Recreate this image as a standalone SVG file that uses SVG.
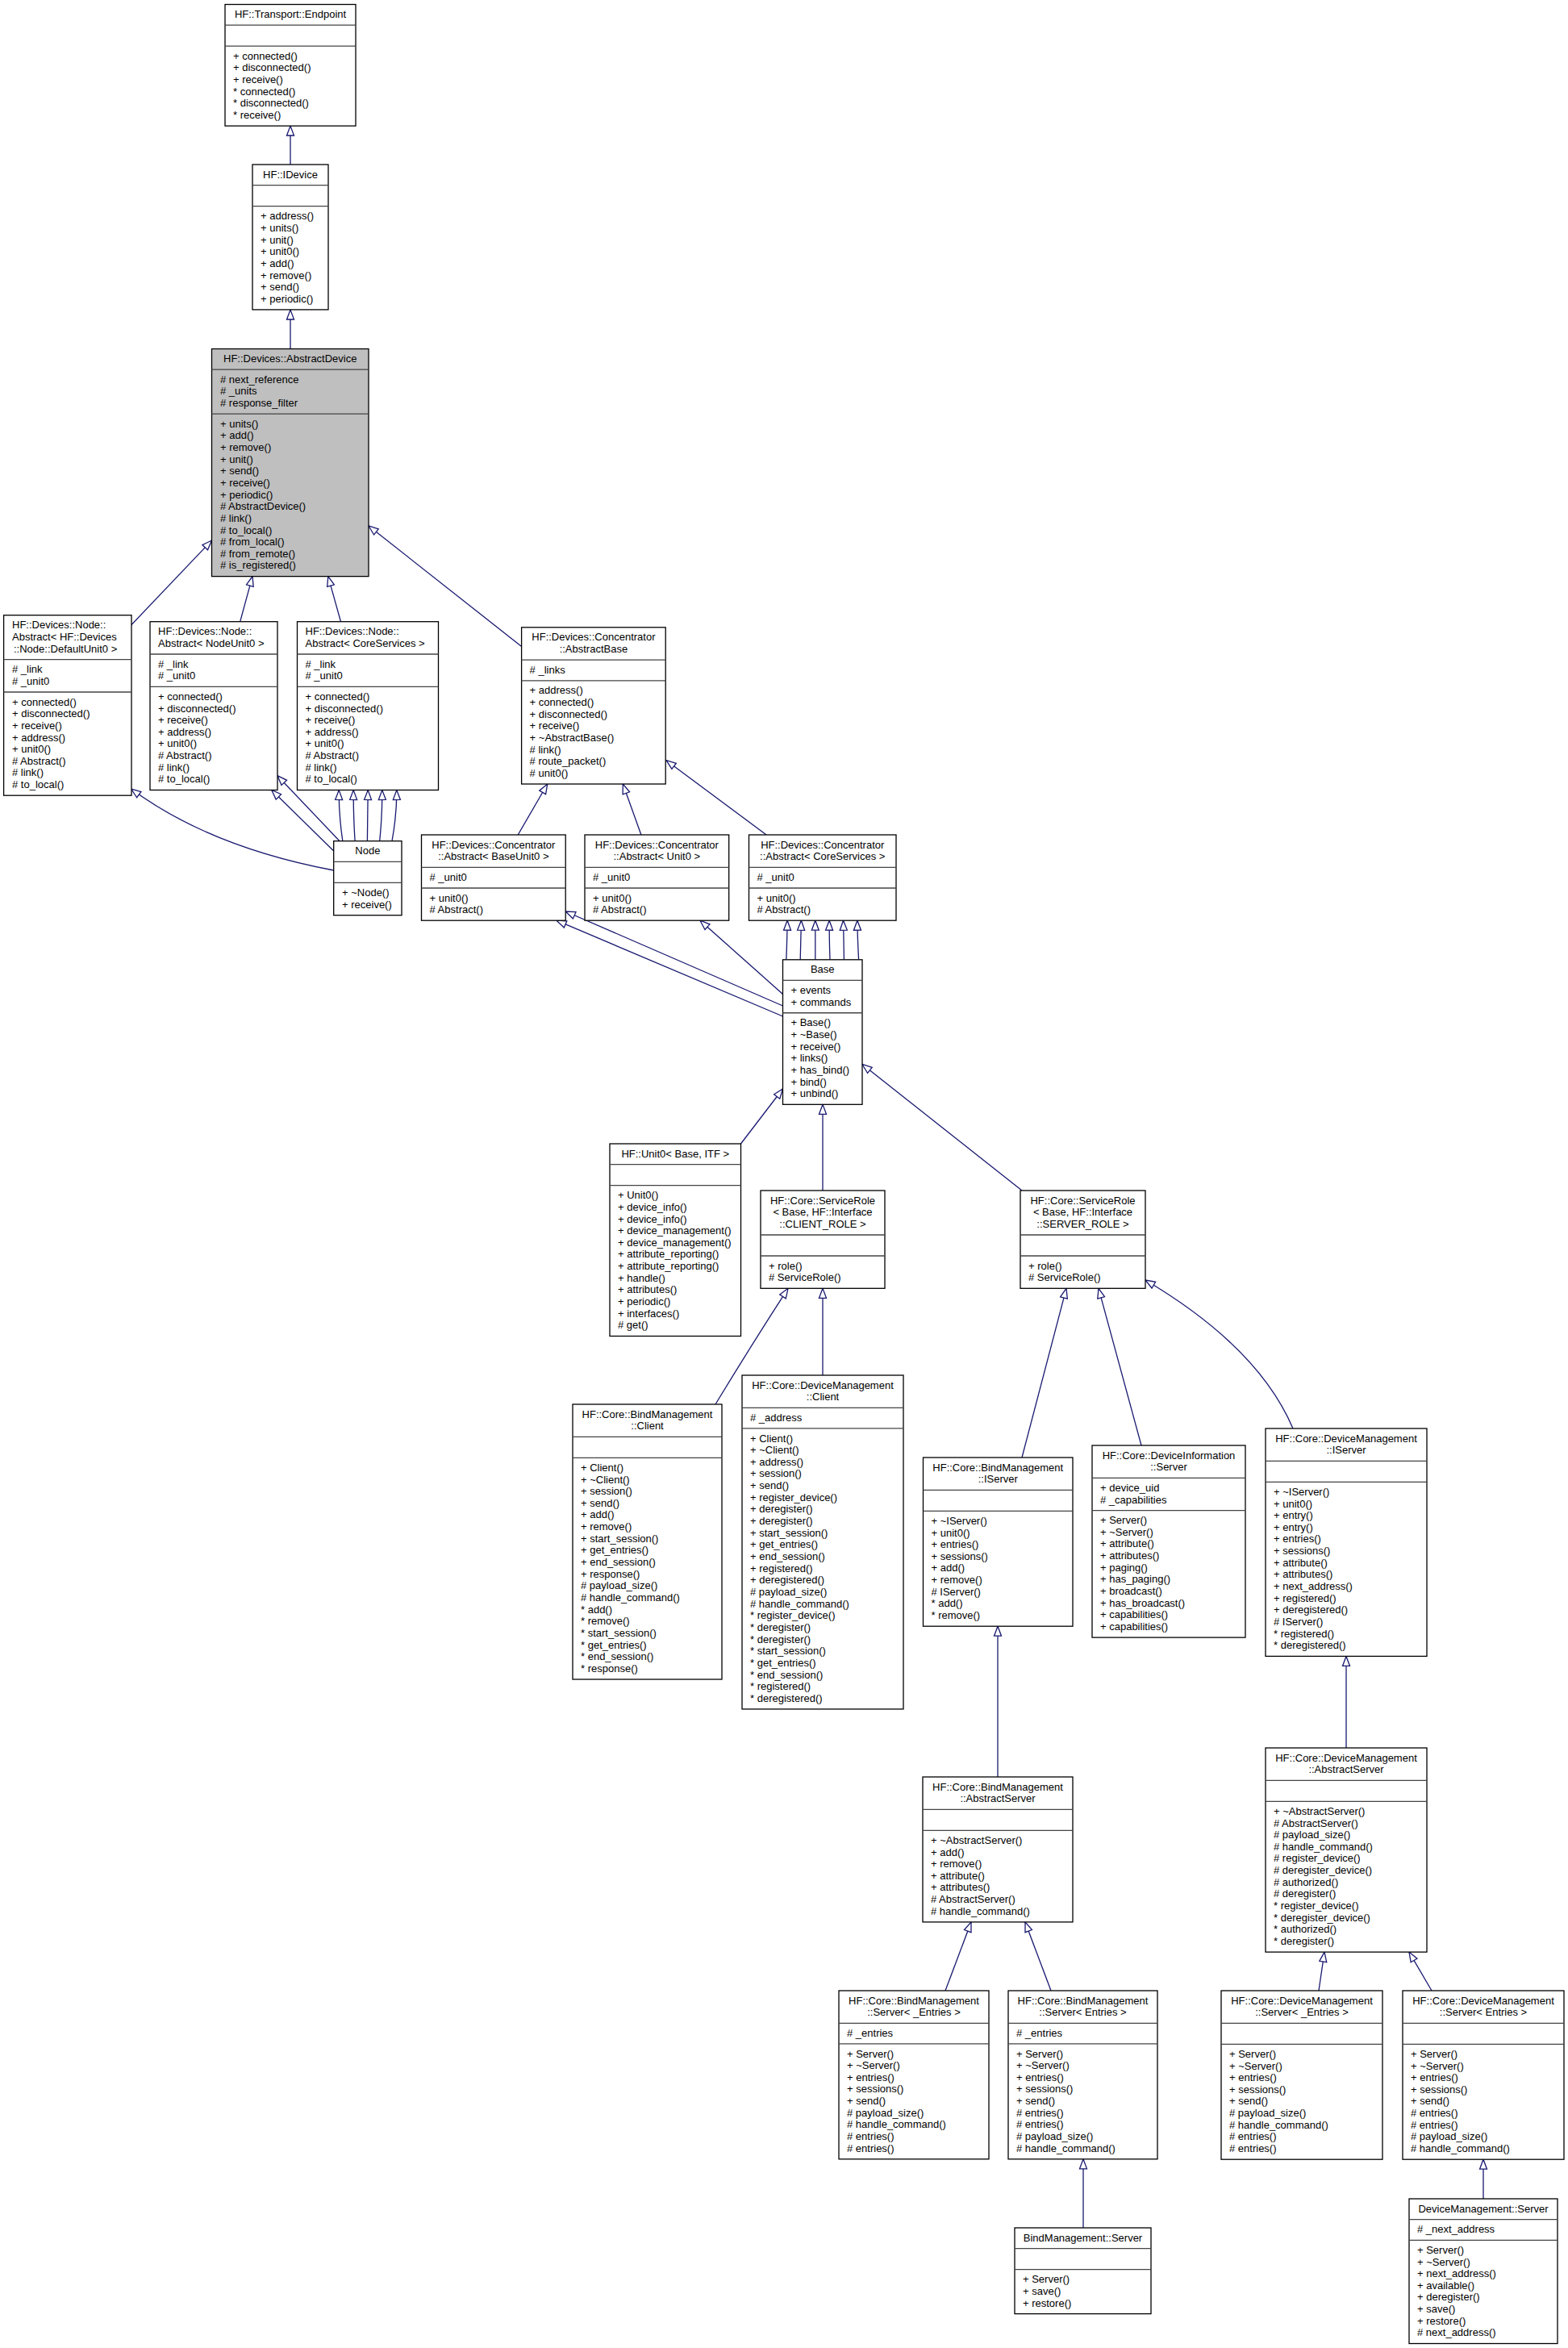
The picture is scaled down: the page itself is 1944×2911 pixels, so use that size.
<svg xmlns="http://www.w3.org/2000/svg" width="1944" height="2911" viewBox="0 0 1944 2911">
<style>
.b{fill:#fff;stroke:#000;stroke-width:1.3}
.g{fill:#bfbfbf;stroke:#000;stroke-width:1.3}
.s{fill:none;stroke:#444;stroke-width:1.3}
text{font-family:"Liberation Sans",Arial,Helvetica,sans-serif;font-size:13px;fill:#000}
.c{text-anchor:middle}
.e{fill:none;stroke:#191970;stroke-width:1.3;marker-end:url(#a)}
</style>
<defs>
<marker id="a" markerUnits="userSpaceOnUse" markerWidth="14" markerHeight="11" refX="12.5" refY="5" orient="auto" overflow="visible">
<path d="M0.5,0.5 L12.5,5 L0.5,9.5 Z" fill="#fff" stroke="#191970" stroke-width="1.3"/>
</marker>
</defs>
<rect width="1944" height="2911" fill="#fff"/>
<g id="connectors">
<path class="e" d="M360,204 V156"/>
<path class="e" d="M360,432.5 V384"/>
<path class="e" d="M162.6,775 L262.5,670"/>
<path class="e" d="M297.7,770.7 L313,714.6"/>
<path class="e" d="M422.5,770.7 L406.8,714.6"/>
<path class="e" d="M646.6,801.5 L457,652"/>
<path class="e" d="M413.7,1079 Q260,1050 162.6,978"/>
<path class="e" d="M413.7,1055 L336.8,979.5"/>
<path class="e" d="M421,1042.7 L344,961.7"/>
<path class="e" d="M424.8,1042.7 Q420,1010 420.2,979.5"/>
<path class="e" d="M440.1,1042.7 Q438,1010 438.2,979.5"/>
<path class="e" d="M455.4,1042.7 L456.2,979.5"/>
<path class="e" d="M470.7,1042.7 Q474,1010 473.8,979.5"/>
<path class="e" d="M486,1042.7 Q492,1010 491.8,979.5"/>
<path class="e" d="M642.2,1035 L678.7,972"/>
<path class="e" d="M794.9,1035 L772.3,972"/>
<path class="e" d="M950.1,1035 L826,942.7"/>
<path class="e" d="M970.5,1247 L701.2,1130"/>
<path class="e" d="M970.5,1260 L690,1141.2"/>
<path class="e" d="M970.5,1232.5 L868,1141.2"/>
<path class="e" d="M974.8,1189.8 Q976,1160 976.1,1141.2"/>
<path class="e" d="M992.2,1189.8 Q993,1160 993.4,1141.2"/>
<path class="e" d="M1010.8,1189.8 L1010.8,1141.2"/>
<path class="e" d="M1029,1189.8 Q1028,1160 1028.2,1141.2"/>
<path class="e" d="M1046.4,1189.8 Q1046,1160 1045.5,1141.2"/>
<path class="e" d="M1064.6,1189.8 Q1063,1160 1062.9,1141.2"/>
<path class="e" d="M918.5,1418 L970.5,1350"/>
<path class="e" d="M1020,1476 V1369.3"/>
<path class="e" d="M1267,1476 L1069,1319.5"/>
<path class="e" d="M887,1741 Q930,1670 977,1597.3"/>
<path class="e" d="M1020,1705 V1597.3"/>
<path class="e" d="M1267,1807 L1322,1597.3"/>
<path class="e" d="M1415,1792 L1362,1597.3"/>
<path class="e" d="M1603,1771 Q1560,1670 1420,1587"/>
<path class="e" d="M1237,2203 V2016.2"/>
<path class="e" d="M1669,2167 V2053.4"/>
<path class="e" d="M1172,2468 L1204,2382.9"/>
<path class="e" d="M1303,2468 L1271,2382.9"/>
<path class="e" d="M1343,2762 V2676.8"/>
<path class="e" d="M1635,2468 L1642,2420.1"/>
<path class="e" d="M1775,2468 L1747,2420.1"/>
<path class="e" d="M1839,2726 V2677.2"/>
</g>
<g id="endpoint">
<rect class="b" x="279" y="5.5" width="162" height="150.6"/>
<path class="s" d="M279,31.2 H441 M279,57.2 H441"/>
<text class="c" x="360" y="22">HF::Transport::Endpoint</text>
<text x="289"><tspan x="289" y="73.7">+ connected()</tspan><tspan x="289" y="88.4">+ disconnected()</tspan><tspan x="289" y="103">+ receive()</tspan><tspan x="289" y="117.7">* connected()</tspan><tspan x="289" y="132.3">* disconnected()</tspan><tspan x="289" y="147">* receive()</tspan></text>
</g>
<g id="idevice">
<rect class="b" x="313" y="204" width="94" height="179.9"/>
<path class="s" d="M313,229.7 H407 M313,255.7 H407"/>
<text class="c" x="360" y="220.5">HF::IDevice</text>
<text><tspan x="323" y="272.2">+ address()</tspan><tspan x="323" y="286.9">+ units()</tspan><tspan x="323" y="301.5">+ unit()</tspan><tspan x="323" y="316.2">+ unit0()</tspan><tspan x="323" y="330.8">+ add()</tspan><tspan x="323" y="345.5">+ remove()</tspan><tspan x="323" y="360.1">+ send()</tspan><tspan x="323" y="374.8">+ periodic()</tspan></text>
</g>
<g id="abstractdevice">
<rect class="g" x="262.5" y="432.5" width="194.5" height="282.1"/>
<path class="s" d="M262.5,458.2 H457 M262.5,513.1 H457"/>
<text class="c" x="359.75" y="449">HF::Devices::AbstractDevice</text>
<text><tspan x="273" y="474.7"># next_reference</tspan><tspan x="273" y="489.4"># _units</tspan><tspan x="273" y="504"># response_filter</tspan></text>
<text><tspan x="273" y="529.6">+ units()</tspan><tspan x="273" y="544.3">+ add()</tspan><tspan x="273" y="558.9">+ remove()</tspan><tspan x="273" y="573.6">+ unit()</tspan><tspan x="273" y="588.2">+ send()</tspan><tspan x="273" y="602.9">+ receive()</tspan><tspan x="273" y="617.5">+ periodic()</tspan><tspan x="273" y="632.2"># AbstractDevice()</tspan><tspan x="273" y="646.8"># link()</tspan><tspan x="273" y="661.5"># to_local()</tspan><tspan x="273" y="676.1"># from_local()</tspan><tspan x="273" y="690.8"># from_remote()</tspan><tspan x="273" y="705.4"># is_registered()</tspan></text>
</g>
<g id="node_default">
<rect class="b" x="4.6" y="762.7" width="158.4" height="223.5"/>
<path class="s" d="M4.6,817.7 H163 M4.6,858 H163"/>
<text><tspan x="15" y="779.2">HF::Devices::Node::</tspan><tspan x="15" y="793.9">Abstract&lt; HF::Devices</tspan><tspan x="17" y="808.5">::Node::DefaultUnit0 &gt;</tspan></text>
<text><tspan x="15" y="834.2"># _link</tspan><tspan x="15" y="848.9"># _unit0</tspan></text>
<text><tspan x="15" y="874.5">+ connected()</tspan><tspan x="15" y="889.2">+ disconnected()</tspan><tspan x="15" y="903.8">+ receive()</tspan><tspan x="15" y="918.5">+ address()</tspan><tspan x="15" y="933.1">+ unit0()</tspan><tspan x="15" y="947.8"># Abstract()</tspan><tspan x="15" y="962.4"># link()</tspan><tspan x="15" y="977.1"># to_local()</tspan></text>
</g>
<g id="node_nodeunit0">
<rect class="b" x="186" y="770.7" width="158" height="208.8"/>
<path class="s" d="M186,811 H344 M186,851.3 H344"/>
<text><tspan x="196" y="787.2">HF::Devices::Node::</tspan><tspan x="196" y="801.9">Abstract&lt; NodeUnit0 &gt;</tspan></text>
<text><tspan x="196" y="827.5"># _link</tspan><tspan x="196" y="842.2"># _unit0</tspan></text>
<text><tspan x="196" y="867.8">+ connected()</tspan><tspan x="196" y="882.5">+ disconnected()</tspan><tspan x="196" y="897.1">+ receive()</tspan><tspan x="196" y="911.8">+ address()</tspan><tspan x="196" y="926.4">+ unit0()</tspan><tspan x="196" y="941.1"># Abstract()</tspan><tspan x="196" y="955.7"># link()</tspan><tspan x="196" y="970.4"># to_local()</tspan></text>
</g>
<g id="node_coreservices">
<rect class="b" x="368.5" y="770.7" width="175" height="208.8"/>
<path class="s" d="M368.5,811 H543.5 M368.5,851.3 H543.5"/>
<text><tspan x="378.5" y="787.2">HF::Devices::Node::</tspan><tspan x="378.5" y="801.9">Abstract&lt; CoreServices &gt;</tspan></text>
<text><tspan x="378.5" y="827.5"># _link</tspan><tspan x="378.5" y="842.2"># _unit0</tspan></text>
<text><tspan x="378.5" y="867.8">+ connected()</tspan><tspan x="378.5" y="882.5">+ disconnected()</tspan><tspan x="378.5" y="897.1">+ receive()</tspan><tspan x="378.5" y="911.8">+ address()</tspan><tspan x="378.5" y="926.4">+ unit0()</tspan><tspan x="378.5" y="941.1"># Abstract()</tspan><tspan x="378.5" y="955.7"># link()</tspan><tspan x="378.5" y="970.4"># to_local()</tspan></text>
</g>
<g id="node">
<rect class="b" x="413.7" y="1042.7" width="84.3" height="92"/>
<path class="s" d="M413.7,1068.4 H498 M413.7,1094.4 H498"/>
<text class="c" x="455.9" y="1059.2">Node</text>
<text><tspan x="424" y="1110.9">+ ~Node()</tspan><tspan x="424" y="1125.6">+ receive()</tspan></text>
</g>
<g id="conc_abstractbase">
<rect class="b" x="646.6" y="777.8" width="178.6" height="194.2"/>
<path class="s" d="M646.6,818.1 H825.2 M646.6,843.8 H825.2"/>
<text class="c"><tspan x="735.9" y="794.3">HF::Devices::Concentrator</tspan><tspan x="735.9" y="808.9">::AbstractBase</tspan></text>
<text><tspan x="656.6" y="834.6"># _links</tspan></text>
<text><tspan x="656.6" y="860.3">+ address()</tspan><tspan x="656.6" y="874.9">+ connected()</tspan><tspan x="656.6" y="889.6">+ disconnected()</tspan><tspan x="656.6" y="904.2">+ receive()</tspan><tspan x="656.6" y="918.9">+ ~AbstractBase()</tspan><tspan x="656.6" y="933.5"># link()</tspan><tspan x="656.6" y="948.2"># route_packet()</tspan><tspan x="656.6" y="962.8"># unit0()</tspan></text>
</g>
<g id="conc_baseunit0">
<rect class="b" x="522.5" y="1035" width="178.7" height="106.2"/>
<path class="s" d="M522.5,1075.3 H701.2 M522.5,1101 H701.2"/>
<text class="c"><tspan x="611.85" y="1051.5">HF::Devices::Concentrator</tspan><tspan x="611.85" y="1066.2">::Abstract&lt; BaseUnit0 &gt;</tspan></text>
<text><tspan x="532.5" y="1091.8"># _unit0</tspan></text>
<text><tspan x="532.5" y="1117.5">+ unit0()</tspan><tspan x="532.5" y="1132.1"># Abstract()</tspan></text>
</g>
<g id="conc_unit0">
<rect class="b" x="725" y="1035" width="178.7" height="106.2"/>
<path class="s" d="M725,1075.3 H903.7 M725,1101 H903.7"/>
<text class="c"><tspan x="814.35" y="1051.5">HF::Devices::Concentrator</tspan><tspan x="814.35" y="1066.2">::Abstract&lt; Unit0 &gt;</tspan></text>
<text><tspan x="735" y="1091.8"># _unit0</tspan></text>
<text><tspan x="735" y="1117.5">+ unit0()</tspan><tspan x="735" y="1132.1"># Abstract()</tspan></text>
</g>
<g id="conc_coreservices">
<rect class="b" x="928.5" y="1035" width="182.5" height="106.2"/>
<path class="s" d="M928.5,1075.3 H1111 M928.5,1101 H1111"/>
<text class="c"><tspan x="1019.75" y="1051.5">HF::Devices::Concentrator</tspan><tspan x="1019.75" y="1066.2">::Abstract&lt; CoreServices &gt;</tspan></text>
<text><tspan x="938.5" y="1091.8"># _unit0</tspan></text>
<text><tspan x="938.5" y="1117.5">+ unit0()</tspan><tspan x="938.5" y="1132.1"># Abstract()</tspan></text>
</g>
<g id="base">
<rect class="b" x="970.5" y="1189.8" width="98.5" height="179.5"/>
<path class="s" d="M970.5,1215.45 H1069 M970.5,1255.75 H1069"/>
<text class="c" x="1019.75" y="1206.3">Base</text>
<text><tspan x="980.5" y="1232">+ events</tspan><tspan x="980.5" y="1246.6">+ commands</tspan></text>
<text><tspan x="980.5" y="1272.3">+ Base()</tspan><tspan x="980.5" y="1286.9">+ ~Base()</tspan><tspan x="980.5" y="1301.6">+ receive()</tspan><tspan x="980.5" y="1316.2">+ links()</tspan><tspan x="980.5" y="1330.9">+ has_bind()</tspan><tspan x="980.5" y="1345.5">+ bind()</tspan><tspan x="980.5" y="1360.2">+ unbind()</tspan></text>
</g>
<g id="unit0">
<rect class="b" x="756" y="1418" width="162.5" height="238.5"/>
<path class="s" d="M756,1443.65 H918.5 M756,1469.65 H918.5"/>
<text class="c" x="837.25" y="1434.5">HF::Unit0&lt; Base, ITF &gt;</text>
<text><tspan x="766" y="1486.2">+ Unit0()</tspan><tspan x="766" y="1500.8">+ device_info()</tspan><tspan x="766" y="1515.5">+ device_info()</tspan><tspan x="766" y="1530.1">+ device_management()</tspan><tspan x="766" y="1544.8">+ device_management()</tspan><tspan x="766" y="1559.4">+ attribute_reporting()</tspan><tspan x="766" y="1574.1">+ attribute_reporting()</tspan><tspan x="766" y="1588.7">+ handle()</tspan><tspan x="766" y="1603.4">+ attributes()</tspan><tspan x="766" y="1618">+ periodic()</tspan><tspan x="766" y="1632.7">+ interfaces()</tspan><tspan x="766" y="1647.3"># get()</tspan></text>
</g>
<g id="servicerole_client">
<rect class="b" x="943" y="1476" width="154" height="121.3"/>
<path class="s" d="M943,1531 H1097 M943,1557 H1097"/>
<text class="c"><tspan x="1020" y="1492.5">HF::Core::ServiceRole</tspan><tspan x="1020" y="1507.2">&lt; Base, HF::Interface</tspan><tspan x="1020" y="1521.8">::CLIENT_ROLE &gt;</tspan></text>
<text><tspan x="953" y="1573.5">+ role()</tspan><tspan x="953" y="1588.2"># ServiceRole()</tspan></text>
</g>
<g id="servicerole_server">
<rect class="b" x="1265" y="1476" width="155" height="121.3"/>
<path class="s" d="M1265,1531 H1420 M1265,1557 H1420"/>
<text class="c"><tspan x="1342.5" y="1492.5">HF::Core::ServiceRole</tspan><tspan x="1342.5" y="1507.2">&lt; Base, HF::Interface</tspan><tspan x="1342.5" y="1521.8">::SERVER_ROLE &gt;</tspan></text>
<text><tspan x="1275" y="1573.5">+ role()</tspan><tspan x="1275" y="1588.2"># ServiceRole()</tspan></text>
</g>
<g id="bind_client">
<rect class="b" x="710" y="1741" width="185" height="341"/>
<path class="s" d="M710,1781.3 H895 M710,1807.3 H895"/>
<text class="c"><tspan x="802.5" y="1757.5">HF::Core::BindManagement</tspan><tspan x="802.5" y="1772.2">::Client</tspan></text>
<text><tspan x="720" y="1823.8">+ Client()</tspan><tspan x="720" y="1838.5">+ ~Client()</tspan><tspan x="720" y="1853.1">+ session()</tspan><tspan x="720" y="1867.8">+ send()</tspan><tspan x="720" y="1882.4">+ add()</tspan><tspan x="720" y="1897.1">+ remove()</tspan><tspan x="720" y="1911.7">+ start_session()</tspan><tspan x="720" y="1926.4">+ get_entries()</tspan><tspan x="720" y="1941">+ end_session()</tspan><tspan x="720" y="1955.7">+ response()</tspan><tspan x="720" y="1970.3"># payload_size()</tspan><tspan x="720" y="1985"># handle_command()</tspan><tspan x="720" y="1999.6">* add()</tspan><tspan x="720" y="2014.3">* remove()</tspan><tspan x="720" y="2028.9">* start_session()</tspan><tspan x="720" y="2043.6">* get_entries()</tspan><tspan x="720" y="2058.2">* end_session()</tspan><tspan x="720" y="2072.9">* response()</tspan></text>
</g>
<g id="devmgmt_client">
<rect class="b" x="920" y="1705" width="200" height="413.9"/>
<path class="s" d="M920,1745.3 H1120 M920,1770.95 H1120"/>
<text class="c"><tspan x="1020" y="1721.5">HF::Core::DeviceManagement</tspan><tspan x="1020" y="1736.2">::Client</tspan></text>
<text><tspan x="930" y="1761.8"># _address</tspan></text>
<text><tspan x="930" y="1787.5">+ Client()</tspan><tspan x="930" y="1802.1">+ ~Client()</tspan><tspan x="930" y="1816.8">+ address()</tspan><tspan x="930" y="1831.4">+ session()</tspan><tspan x="930" y="1846.1">+ send()</tspan><tspan x="930" y="1860.7">+ register_device()</tspan><tspan x="930" y="1875.4">+ deregister()</tspan><tspan x="930" y="1890">+ deregister()</tspan><tspan x="930" y="1904.7">+ start_session()</tspan><tspan x="930" y="1919.3">+ get_entries()</tspan><tspan x="930" y="1934">+ end_session()</tspan><tspan x="930" y="1948.6">+ registered()</tspan><tspan x="930" y="1963.3">+ deregistered()</tspan><tspan x="930" y="1977.9"># payload_size()</tspan><tspan x="930" y="1992.6"># handle_command()</tspan><tspan x="930" y="2007.2">* register_device()</tspan><tspan x="930" y="2021.9">* deregister()</tspan><tspan x="930" y="2036.5">* deregister()</tspan><tspan x="930" y="2051.2">* start_session()</tspan><tspan x="930" y="2065.8">* get_entries()</tspan><tspan x="930" y="2080.5">* end_session()</tspan><tspan x="930" y="2095.1">* registered()</tspan><tspan x="930" y="2109.8">* deregistered()</tspan></text>
</g>
<g id="bind_iserver">
<rect class="b" x="1144.5" y="1807" width="185.5" height="209.2"/>
<path class="s" d="M1144.5,1847.3 H1330 M1144.5,1873.3 H1330"/>
<text class="c"><tspan x="1237.25" y="1823.5">HF::Core::BindManagement</tspan><tspan x="1237.25" y="1838.2">::IServer</tspan></text>
<text><tspan x="1154.5" y="1889.8">+ ~IServer()</tspan><tspan x="1154.5" y="1904.5">+ unit0()</tspan><tspan x="1154.5" y="1919.1">+ entries()</tspan><tspan x="1154.5" y="1933.8">+ sessions()</tspan><tspan x="1154.5" y="1948.4">+ add()</tspan><tspan x="1154.5" y="1963.1">+ remove()</tspan><tspan x="1154.5" y="1977.7"># IServer()</tspan><tspan x="1154.5" y="1992.4">* add()</tspan><tspan x="1154.5" y="2007">* remove()</tspan></text>
</g>
<g id="devinfo_server">
<rect class="b" x="1354" y="1792" width="190" height="238.1"/>
<path class="s" d="M1354,1832.3 H1544 M1354,1872.6 H1544"/>
<text class="c"><tspan x="1449" y="1808.5">HF::Core::DeviceInformation</tspan><tspan x="1449" y="1823.2">::Server</tspan></text>
<text><tspan x="1364" y="1848.8">+ device_uid</tspan><tspan x="1364" y="1863.5"># _capabilities</tspan></text>
<text><tspan x="1364" y="1889.1">+ Server()</tspan><tspan x="1364" y="1903.8">+ ~Server()</tspan><tspan x="1364" y="1918.4">+ attribute()</tspan><tspan x="1364" y="1933.1">+ attributes()</tspan><tspan x="1364" y="1947.7">+ paging()</tspan><tspan x="1364" y="1962.4">+ has_paging()</tspan><tspan x="1364" y="1977">+ broadcast()</tspan><tspan x="1364" y="1991.7">+ has_broadcast()</tspan><tspan x="1364" y="2006.3">+ capabilities()</tspan><tspan x="1364" y="2021">+ capabilities()</tspan></text>
</g>
<g id="devmgmt_iserver">
<rect class="b" x="1569" y="1771" width="200" height="282.4"/>
<path class="s" d="M1569,1811.3 H1769 M1569,1837.3 H1769"/>
<text class="c"><tspan x="1669" y="1787.5">HF::Core::DeviceManagement</tspan><tspan x="1669" y="1802.2">::IServer</tspan></text>
<text><tspan x="1579" y="1853.8">+ ~IServer()</tspan><tspan x="1579" y="1868.5">+ unit0()</tspan><tspan x="1579" y="1883.1">+ entry()</tspan><tspan x="1579" y="1897.8">+ entry()</tspan><tspan x="1579" y="1912.4">+ entries()</tspan><tspan x="1579" y="1927.1">+ sessions()</tspan><tspan x="1579" y="1941.7">+ attribute()</tspan><tspan x="1579" y="1956.4">+ attributes()</tspan><tspan x="1579" y="1971">+ next_address()</tspan><tspan x="1579" y="1985.7">+ registered()</tspan><tspan x="1579" y="2000.3">+ deregistered()</tspan><tspan x="1579" y="2015"># IServer()</tspan><tspan x="1579" y="2029.6">* registered()</tspan><tspan x="1579" y="2044.3">* deregistered()</tspan></text>
</g>
<g id="bind_abstractserver">
<rect class="b" x="1144" y="2203" width="186" height="179.9"/>
<path class="s" d="M1144,2243.3 H1330 M1144,2269.3 H1330"/>
<text class="c"><tspan x="1237" y="2219.5">HF::Core::BindManagement</tspan><tspan x="1237" y="2234.2">::AbstractServer</tspan></text>
<text><tspan x="1154" y="2285.8">+ ~AbstractServer()</tspan><tspan x="1154" y="2300.5">+ add()</tspan><tspan x="1154" y="2315.1">+ remove()</tspan><tspan x="1154" y="2329.8">+ attribute()</tspan><tspan x="1154" y="2344.4">+ attributes()</tspan><tspan x="1154" y="2359.1"># AbstractServer()</tspan><tspan x="1154" y="2373.7"># handle_command()</tspan></text>
</g>
<g id="devmgmt_abstractserver">
<rect class="b" x="1569" y="2167" width="200" height="253.1"/>
<path class="s" d="M1569,2207.3 H1769 M1569,2233.3 H1769"/>
<text class="c"><tspan x="1669" y="2183.5">HF::Core::DeviceManagement</tspan><tspan x="1669" y="2198.2">::AbstractServer</tspan></text>
<text><tspan x="1579" y="2249.8">+ ~AbstractServer()</tspan><tspan x="1579" y="2264.5"># AbstractServer()</tspan><tspan x="1579" y="2279.1"># payload_size()</tspan><tspan x="1579" y="2293.8"># handle_command()</tspan><tspan x="1579" y="2308.4"># register_device()</tspan><tspan x="1579" y="2323.1"># deregister_device()</tspan><tspan x="1579" y="2337.7"># authorized()</tspan><tspan x="1579" y="2352.4"># deregister()</tspan><tspan x="1579" y="2367">* register_device()</tspan><tspan x="1579" y="2381.7">* deregister_device()</tspan><tspan x="1579" y="2396.3">* authorized()</tspan><tspan x="1579" y="2411">* deregister()</tspan></text>
</g>
<g id="bind_server_uentries">
<rect class="b" x="1040" y="2468" width="186" height="208.8"/>
<path class="s" d="M1040,2508.3 H1226 M1040,2533.95 H1226"/>
<text class="c"><tspan x="1133" y="2484.5">HF::Core::BindManagement</tspan><tspan x="1133" y="2499.2">::Server&lt; _Entries &gt;</tspan></text>
<text><tspan x="1050" y="2524.8"># _entries</tspan></text>
<text><tspan x="1050" y="2550.5">+ Server()</tspan><tspan x="1050" y="2565.1">+ ~Server()</tspan><tspan x="1050" y="2579.8">+ entries()</tspan><tspan x="1050" y="2594.4">+ sessions()</tspan><tspan x="1050" y="2609.1">+ send()</tspan><tspan x="1050" y="2623.7"># payload_size()</tspan><tspan x="1050" y="2638.4"># handle_command()</tspan><tspan x="1050" y="2653"># entries()</tspan><tspan x="1050" y="2667.7"># entries()</tspan></text>
</g>
<g id="bind_server_entries">
<rect class="b" x="1250" y="2468" width="185" height="208.8"/>
<path class="s" d="M1250,2508.3 H1435 M1250,2533.95 H1435"/>
<text class="c"><tspan x="1342.5" y="2484.5">HF::Core::BindManagement</tspan><tspan x="1342.5" y="2499.2">::Server&lt; Entries &gt;</tspan></text>
<text><tspan x="1260" y="2524.8"># _entries</tspan></text>
<text><tspan x="1260" y="2550.5">+ Server()</tspan><tspan x="1260" y="2565.1">+ ~Server()</tspan><tspan x="1260" y="2579.8">+ entries()</tspan><tspan x="1260" y="2594.4">+ sessions()</tspan><tspan x="1260" y="2609.1">+ send()</tspan><tspan x="1260" y="2623.7"># entries()</tspan><tspan x="1260" y="2638.4"># entries()</tspan><tspan x="1260" y="2653"># payload_size()</tspan><tspan x="1260" y="2667.7"># handle_command()</tspan></text>
</g>
<g id="bindmanagement_server">
<rect class="b" x="1258" y="2762" width="169" height="106.6"/>
<path class="s" d="M1258,2787.65 H1427 M1258,2813.65 H1427"/>
<text class="c" x="1342.5" y="2778.5">BindManagement::Server</text>
<text><tspan x="1268" y="2830.2">+ Server()</tspan><tspan x="1268" y="2844.8">+ save()</tspan><tspan x="1268" y="2859.5">+ restore()</tspan></text>
</g>
<g id="devmgmt_server_uentries">
<rect class="b" x="1514" y="2468" width="200" height="209.2"/>
<path class="s" d="M1514,2508.3 H1714 M1514,2534.3 H1714"/>
<text class="c"><tspan x="1614" y="2484.5">HF::Core::DeviceManagement</tspan><tspan x="1614" y="2499.2">::Server&lt; _Entries &gt;</tspan></text>
<text><tspan x="1524" y="2550.8">+ Server()</tspan><tspan x="1524" y="2565.5">+ ~Server()</tspan><tspan x="1524" y="2580.1">+ entries()</tspan><tspan x="1524" y="2594.8">+ sessions()</tspan><tspan x="1524" y="2609.4">+ send()</tspan><tspan x="1524" y="2624.1"># payload_size()</tspan><tspan x="1524" y="2638.7"># handle_command()</tspan><tspan x="1524" y="2653.4"># entries()</tspan><tspan x="1524" y="2668"># entries()</tspan></text>
</g>
<g id="devmgmt_server_entries">
<rect class="b" x="1739" y="2468" width="200" height="209.2"/>
<path class="s" d="M1739,2508.3 H1939 M1739,2534.3 H1939"/>
<text class="c"><tspan x="1839" y="2484.5">HF::Core::DeviceManagement</tspan><tspan x="1839" y="2499.2">::Server&lt; Entries &gt;</tspan></text>
<text><tspan x="1749" y="2550.8">+ Server()</tspan><tspan x="1749" y="2565.5">+ ~Server()</tspan><tspan x="1749" y="2580.1">+ entries()</tspan><tspan x="1749" y="2594.8">+ sessions()</tspan><tspan x="1749" y="2609.4">+ send()</tspan><tspan x="1749" y="2624.1"># entries()</tspan><tspan x="1749" y="2638.7"># entries()</tspan><tspan x="1749" y="2653.4"># payload_size()</tspan><tspan x="1749" y="2668"># handle_command()</tspan></text>
</g>
<g id="devicemanagement_server">
<rect class="b" x="1747" y="2726" width="184" height="179.5"/>
<path class="s" d="M1747,2751.65 H1931 M1747,2777.3 H1931"/>
<text class="c" x="1839" y="2742.5">DeviceManagement::Server</text>
<text><tspan x="1757" y="2768.2"># _next_address</tspan></text>
<text><tspan x="1757" y="2793.8">+ Server()</tspan><tspan x="1757" y="2808.5">+ ~Server()</tspan><tspan x="1757" y="2823.1">+ next_address()</tspan><tspan x="1757" y="2837.8">+ available()</tspan><tspan x="1757" y="2852.4">+ deregister()</tspan><tspan x="1757" y="2867.1">+ save()</tspan><tspan x="1757" y="2881.7">+ restore()</tspan><tspan x="1757" y="2896.4"># next_address()</tspan></text>
</g>
</svg>
